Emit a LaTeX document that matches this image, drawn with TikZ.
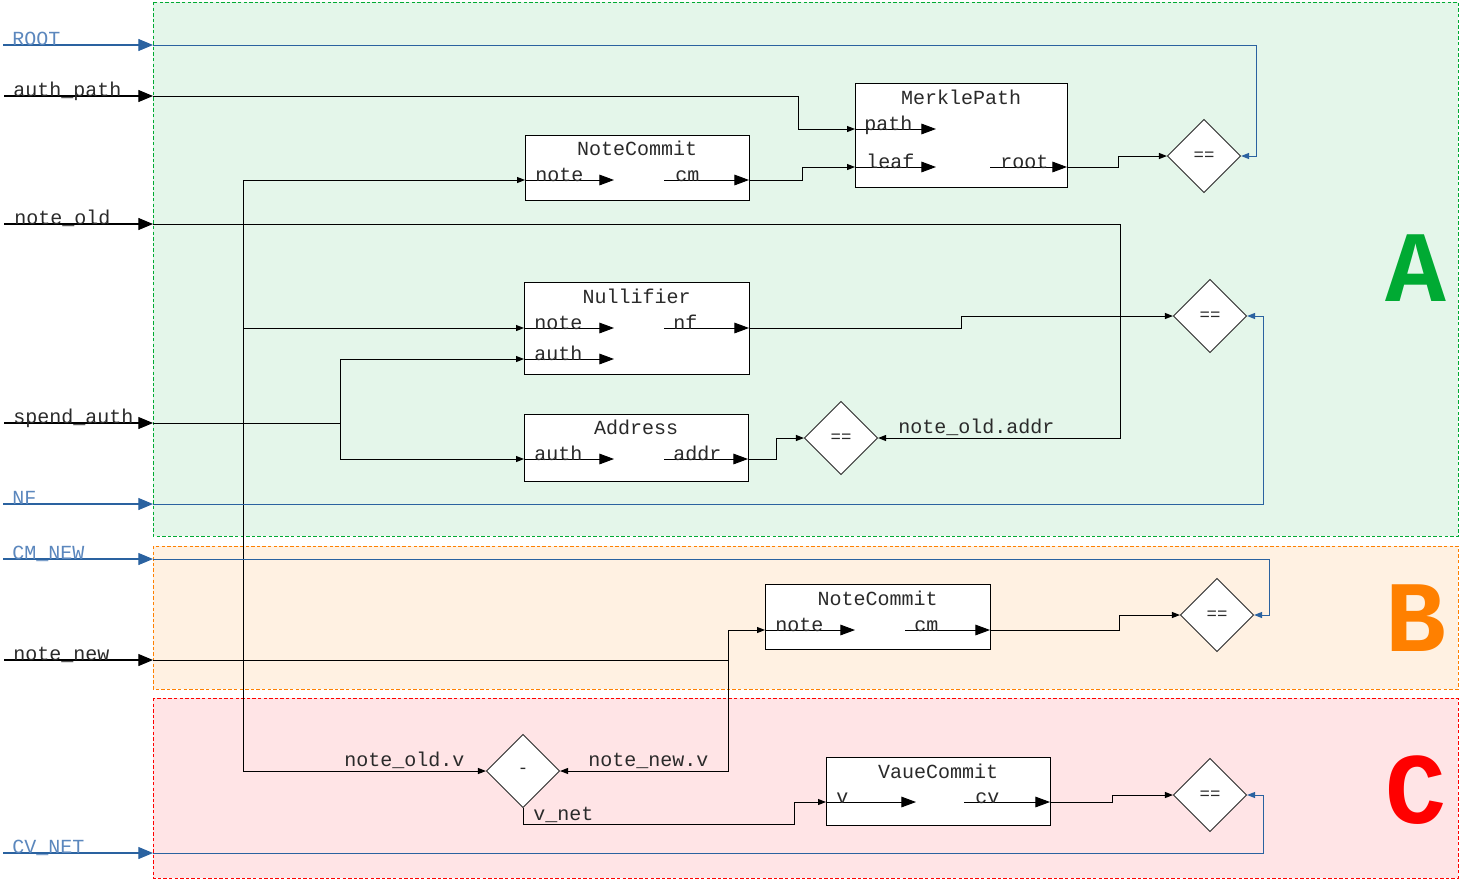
\documentclass[tikz,border=0pt]{standalone}
\usepackage{fontspec}
\setmainfont{Liberation Mono}
\usetikzlibrary{arrows.meta,shapes.geometric}
\definecolor{gA}{HTML}{00AA33}
\definecolor{fA}{HTML}{E4F6EA}
\definecolor{gB}{HTML}{FF8000}
\definecolor{fB}{HTML}{FFF1E2}
\definecolor{gC}{HTML}{FF0000}
\definecolor{fC}{HTML}{FFE4E6}
\definecolor{blu}{HTML}{2A62A0}
\definecolor{blul}{HTML}{5B87BD}
\definecolor{txt}{HTML}{2A2A2A}
\newcommand{\myport}[6]{%
  \coordinate (#1a) at (#2,#4);
  \coordinate (#1b) at (#3,#4);
  \draw[port] (#1a) -- (#1b);
  \node[plbl] (#1l) at (#5,#4+1) {#6};}
\begin{document}
\begin{tikzpicture}[x=0.75pt,y=-0.75pt,
  region/.style={dash pattern=on 2.6pt off 1.6pt, line width=0.75pt},
  blk/.style={draw, fill=white, line width=0.75pt, inner sep=0pt, anchor=north west},
  ttl/.style={font=\fontsize{15}{15}\selectfont, text=txt, anchor=base, inner sep=0pt},
  plbl/.style={font=\fontsize{15}{15}\selectfont, text=txt, anchor=base west, inner sep=0pt},
  wlbl/.style={font=\fontsize{15}{15}\selectfont, text=txt, anchor=base west, inner sep=0pt},
  inlbl/.style={font=\fontsize{15}{15}\selectfont, text=txt, anchor=base west, inner sep=0pt},
  binlbl/.style={inlbl, text=blul},
  port/.style={line width=0.75pt, -{Triangle[length=11pt,width=8pt]}},
  wire/.style={line width=0.75pt, -{Triangle[length=6pt,width=4.5pt]}},
  plain/.style={line width=0.75pt},
  bwire/.style={wire, blu},
  inarr/.style={line width=0.8pt, -{Triangle[length=11pt,width=9pt]}},
  binarr/.style={inarr, blu},
  eq/.style={diamond, aspect=1, draw=txt, fill=white, line width=0.6pt, minimum width=55pt, minimum height=55pt, inner sep=0pt, font=\fontsize{13}{13}\selectfont, text=txt},
  big/.style={font=\fontsize{76}{76}\selectfont\bfseries}
]
\useasboundingbox (0,0) rectangle (1462,883);

% regions
\draw[region, draw=gA, fill=fA] (153,2) rectangle (1458,536);
\draw[region, draw=gB, fill=fB] (153,546) rectangle (1458,689);
\draw[region, draw=gC, fill=fC] (153,698) rectangle (1458,878);

\node[big, text=gA] (letA) at (1416,268) {A};
\node[big, text=gB] (letB) at (1416,618) {B};
\node[big, text=gC] (letC) at (1416,790) {C};

% inputs
\coordinate (iroot0) at (3,45);   \coordinate (iroot) at (153,45);
\coordinate (iauth0) at (4,96);   \coordinate (iauth) at (153,96);
\coordinate (iold0) at (4,224);   \coordinate (iold) at (153,224);
\coordinate (isp0) at (4,423);    \coordinate (isp) at (153,423);
\coordinate (inf0) at (3,504);    \coordinate (inf) at (153,504);
\coordinate (icm0) at (3,559);    \coordinate (icm) at (153,559);
\coordinate (inew0) at (4,660);   \coordinate (inew) at (153,660);
\coordinate (icv0) at (3,853);    \coordinate (icv) at (153,853);

% blocks
\node[blk, minimum width=168pt, minimum height=48.75pt] (nc1) at (525,135) {};
\node[blk, minimum width=159pt, minimum height=78pt] (mp) at (855,83) {};
\node[blk, minimum width=168.75pt, minimum height=69pt] (nul) at (524,282) {};
\node[blk, minimum width=168pt, minimum height=50.25pt] (adr) at (524,414) {};
\node[blk, minimum width=168.75pt, minimum height=48.75pt] (nc2) at (765,584) {};
\node[blk, minimum width=168pt, minimum height=51pt] (vc) at (826,757) {};

\node[ttl] (nc1t) at (637,155) {NoteCommit};
\node[ttl] (mpt) at (961,104) {MerklePath};
\node[ttl] (nult) at (636.5,303) {Nullifier};
\node[ttl] (adrt) at (636,434) {Address};
\node[ttl] (nc2t) at (877.5,605) {NoteCommit};
\node[ttl] (vct) at (938,778) {VaueCommit};

% diamonds
\node[eq] (eq1) at (1204,156) {==};
\node[eq] (eq2) at (1210,316) {==};
\node[eq] (eq3) at (841,438) {==};
\node[eq] (eq4) at (1217,615) {==};
\node[eq] (eq5) at (1210,795) {==};
\node[eq] (minus) at (523,771) {-};

% ports
\myport{nc1note}{525}{614}{180}{535}{note}
\myport{nc1cm}{664}{749}{180}{675}{cm}
\myport{mppath}{855}{936}{129}{864}{path}
\myport{mpleaf}{855}{936}{167}{866}{leaf}
\myport{mproot}{990}{1067}{167}{1000}{root}
\myport{nulnote}{524}{614}{328}{534}{note}
\myport{nulauth}{524}{614}{359}{534}{auth}
\myport{nulnf}{664}{749}{328}{673}{nf}
\myport{adrauth}{524}{614}{459}{534}{auth}
\myport{adraddr}{664}{748}{459}{673}{addr}
\myport{nc2note}{765}{855}{630}{775}{note}
\myport{nc2cm}{905}{990}{630}{914}{cm}
\myport{vcv}{826}{916}{802}{836}{v}
\myport{vccv}{964}{1050}{802}{975}{cv}

% input arrows and labels
\draw[binarr] (iroot0) -- (iroot);
\node[binlbl] (lroot) at (12,45) {ROOT};
\draw[inarr] (iauth0) -- (iauth);
\node[inlbl] (lauth) at (13,96) {auth\_path};
\draw[inarr] (iold0) -- (iold);
\node[inlbl] (lold) at (14,224) {note\_old};
\draw[inarr] (isp0) -- (isp);
\node[inlbl] (lsp) at (13,423) {spend\_auth};
\draw[binarr] (inf0) -- (inf);
\node[binlbl] (lnf) at (12,504) {NF};
\draw[binarr] (icm0) -- (icm);
\node[binlbl] (lcm) at (12,559) {CM\_NEW};
\draw[inarr] (inew0) -- (inew);
\node[inlbl] (lnew) at (13,660) {note\_new};
\draw[binarr] (icv0) -- (icv);
\node[binlbl] (lcv) at (12,853) {CV\_NET};

% wires
\draw[bwire] (iroot) -- (1256,45) |- (eq1.east);
\draw[wire] (iauth) -- (798,96) |- (mppatha);
\draw[wire] (nc1cmb) -- (802,180) |- (mpleafa);
\draw[wire] (mprootb) -- (1118,167) |- (eq1.west);

\coordinate (jold) at (243,224);
\draw[wire] (iold) -- (1120,224) |- (eq3.east);
\node[wlbl] (lolda) at (898,433) {note\_old.addr};
\draw[wire] (jold) |- (nc1notea);
\draw[wire] (jold) |- (nulnotea);
\draw[wire] (jold) |- (minus.west);
\node[wlbl] (loldv) at (344,766) {note\_old.v};

\coordinate (jsp) at (340,423);
\draw[plain] (isp) -- (jsp);
\draw[wire] (jsp) |- (nulautha);
\draw[wire] (jsp) |- (adrautha);

\draw[wire] (nulnfb) -- (961,328) |- (eq2.west);
\draw[wire] (adraddrb) -- (776,459) |- (eq3.west);
\draw[bwire] (inf) -- (1263,504) |- (eq2.east);

\draw[bwire] (icm) -- (1269,559) |- (eq4.east);
\coordinate (jnew) at (728,660);
\draw[plain] (inew) -- (jnew);
\draw[wire] (jnew) |- (nc2notea);
\draw[wire] (jnew) |- (minus.east);
\node[wlbl] (lnewv) at (588,766) {note\_new.v};
\draw[wire] (nc2cmb) -- (1119,630) |- (eq4.west);

\draw[wire] (minus.south) -- (523,824) -- (794,824) |- (vcva);
\node[wlbl] (lvnet) at (533,820) {v\_net};
\draw[wire] (vccvb) -- (1112,802) |- (eq5.west);
\draw[bwire] (icv) -- (1263,853) |- (eq5.east);
\end{tikzpicture}
\end{document}
